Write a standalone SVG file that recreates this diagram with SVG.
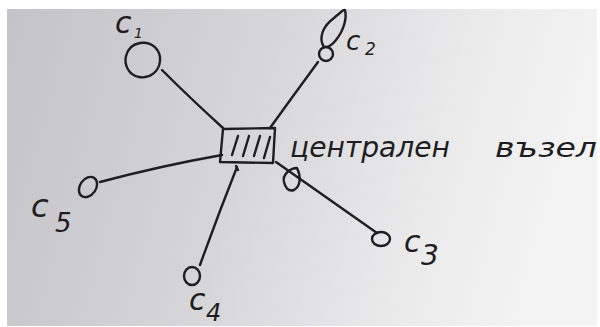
<svg xmlns="http://www.w3.org/2000/svg" width="600" height="327" viewBox="0 0 600 327">
  <defs>
    <linearGradient id="paper" x1="0" y1="0" x2="1" y2="0.15">
      <stop offset="0" stop-color="#c3c3c8"/>
      <stop offset="0.45" stop-color="#d6d6d9"/>
      <stop offset="0.8" stop-color="#ebebec"/>
      <stop offset="1" stop-color="#f3f3f3"/>
    </linearGradient>
    <style>
      .ink { fill: none; stroke: #1e1e22; stroke-width: 2.4; stroke-linecap: round; stroke-linejoin: round; }
      .hand { font-family: "DejaVu Sans", "Liberation Sans", sans-serif; font-style: italic; fill: #1e1e22; }
      .lbl { font-size: 30px; }
    </style>
  </defs>

  <!-- sheet of paper with a white margin -->
  <rect x="0" y="0" width="600" height="327" fill="#ffffff"/>
  <rect x="7" y="9" width="590" height="317" fill="url(#paper)"/>

  <!-- connectors from the central hub to each station -->
  <g id="connectors" class="ink">
    <path d="M162 70 Q190 98 223 128"/>
    <path d="M318 62 Q293 96 270 128"/>
    <path d="M276 162 Q330 200 377 233"/>
    <path d="M222 155 Q160 166 100 182"/>
    <path d="M237 167 Q218 215 200 265"/>
  </g>

  <!-- central hub: hatched box -->
  <g id="hub">
    <path class="ink" d="M223 129 L275 128 L273 163 L220 162 Z"/>
    <path class="ink" d="M232 155 L238 136 M243 156 L249 136 M254 156 L260 136 M264 158 L270 137"/>
    <path class="ink" d="M236 166 L238 170" stroke-width="1.6"/>
    <text class="hand" x="290" y="157" font-size="28" textLength="160" lengthAdjust="spacingAndGlyphs">централен</text>
    <text class="hand" x="495" y="157" font-size="26" textLength="102" lengthAdjust="spacingAndGlyphs">възел</text>
  </g>

  <!-- station c1 -->
  <g id="c1">
    <path class="ink" d="M140 43 C152 41 161 50 160 61 C159 72 149 79 139 77 C128 75 124 64 126 56 C128 48 134 44 140 43 Z"/>
    <text class="hand lbl" x="115" y="33">c</text>
    <text class="hand" x="134" y="38" font-size="14">1</text>
  </g>

  <!-- station c2 -->
  <g id="c2">
    <circle class="ink" cx="326" cy="54" r="7"/>
    <path class="ink" d="M324 47 C318 38 323 26 334 18 C340 13 344 9 345 10 C347 18 344 30 336 40 C332 45 328 47 326 47"/>
    <text class="hand" x="346" y="50" font-size="26">c</text>
    <text class="hand" x="365" y="55" font-size="17">2</text>
  </g>

  <!-- station c3 -->
  <g id="c3">
    <path class="ink" d="M284 182 C282 175 290 168 297 168 C301 176 301 186 294 190 C288 192 285 187 284 182 Z"/>
    <ellipse class="ink" cx="381" cy="239" rx="9" ry="7"/>
    <text class="hand lbl" x="404" y="252">c</text>
    <text class="hand" x="421" y="265" font-size="28">3</text>
  </g>

  <!-- station c4 -->
  <g id="c4">
    <ellipse class="ink" cx="192" cy="276" rx="8" ry="9"/>
    <text class="hand lbl" x="189" y="310">c</text>
    <text class="hand" x="206" y="321" font-size="24">4</text>
  </g>

  <!-- station c5 -->
  <g id="c5">
    <ellipse class="ink" cx="88" cy="187" rx="8" ry="11" transform="rotate(35 88 187)"/>
    <text class="hand" x="31" y="217" font-size="32">c</text>
    <text class="hand" x="55" y="232" font-size="26">5</text>
  </g>
</svg>
